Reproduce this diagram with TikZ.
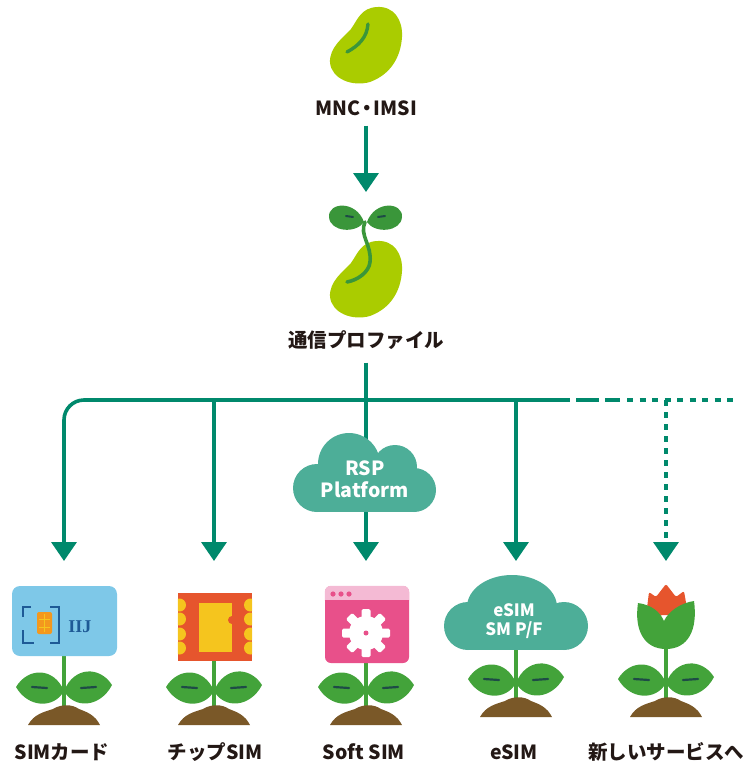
\documentclass[tikz,border=0pt]{standalone}
\usepackage{fontspec}
\setmainfont{Noto Sans CJK JP}
\newfontfamily\logofont{Liberation Serif}
\usetikzlibrary{arrows.meta}

\definecolor{flowgreen}{RGB}{0,137,108}
\definecolor{beangreen}{RGB}{170,204,0}
\definecolor{sproutgreen}{RGB}{58,150,58}
\definecolor{leafgreen}{RGB}{67,163,58}
\definecolor{leafline}{RGB}{30,75,70}
\definecolor{soil}{RGB}{122,88,40}
\definecolor{cloudteal}{RGB}{77,174,152}
\definecolor{simblue}{RGB}{126,200,232}
\definecolor{simdark}{RGB}{30,90,150}
\definecolor{chipamber}{RGB}{243,152,30}
\definecolor{chipred}{RGB}{230,85,45}
\definecolor{chipyellow}{RGB}{245,197,30}
\definecolor{softpink}{RGB}{232,80,138}
\definecolor{barpink}{RGB}{244,186,212}
\definecolor{inkdark}{RGB}{35,24,21}

\tikzset{
  flow/.style={draw=flowgreen,line width=3.6pt,-{Triangle[width=25pt,length=19pt]}},
  link/.style={draw=flowgreen,line width=3.6pt},
  capt/.style={text=inkdark,inner sep=1pt,font=\bfseries\fontsize{19.5pt}{22pt}\selectfont},
  cloudtext/.style={text=white,align=center,inner sep=0pt,font=\bfseries\fontsize{19.5pt}{22pt}\selectfont},
  bean/.pic={
    \fill[beangreen] (11,-38) .. controls (28,-39) and (37,-25) .. (36,-8)
      .. controls (35,8) and (28,28) .. (4,37) .. controls (-14,42) and (-34,34) .. (-36,18)
      .. controls (-37,2) and (-22,-8) .. (-15,-16) .. controls (-8,-26) and (-5,-37) .. (11,-38) -- cycle;
  },
  sprig/.pic={
    \draw[leafgreen,line width=4pt] (0,-62) -- (0,0);
    \fill[leafgreen] (0,-21) .. controls (-10,-45) and (-36,-45) .. (-48,-25) .. controls (-36,-4) and (-10,-3) .. (0,-21);
    \fill[leafgreen] (0,-21) .. controls (10,-46) and (36,-46) .. (48,-27) .. controls (36,-4) and (10,-3) .. (0,-21);
    \draw[leafline,line width=2.2pt,line cap=round] (-32,-25) -- (-17,-24) (17,-24) -- (32,-25);
    \fill[soil] (-36,13) .. controls (-30,2) and (-20,0) .. (-11,-3) .. controls (-3,-8) and (8,-8) .. (15,-3)
      .. controls (23,0) and (31,3) .. (36,13) -- cycle;
  },
  rspcloud/.pic={
    \fill[cloudteal] (-16,-8) circle (31pt);
    \fill[cloudteal] (30,-5) circle (22pt);
    \fill[cloudteal] (-48,16) circle (24pt);
    \fill[cloudteal] (49,18) circle (22pt);
    \fill[cloudteal] (-48,0) rectangle (49,40);
  },
  esimcloud/.pic={
    \fill[cloudteal] (-4,-7) ellipse (45pt and 32pt);
    \fill[cloudteal] (-48,12) circle (24pt);
    \fill[cloudteal] (48,12) circle (24pt);
    \fill[cloudteal] (-48,0) rectangle (48,36);
  }
}

\begin{document}
\begin{tikzpicture}[x=1pt,y=-1pt]
\useasboundingbox (0,0) rectangle (744,764);

% seed, sprout and their captions
\pic at (366,45) {bean};
\draw[sproutgreen,line width=3.4pt,line cap=round] (368,24) .. controls (367,38) and (358,46) .. (347,52);
\node[capt] (mnc) at (366,108) {MNC\kern-3pt・\kern-3pt IMSI};
\coordinate (sprout) at (366,192);
\draw[flow,shorten <=9pt] (mnc) -- (sprout);

\pic at (366,279) {bean};
\fill[sproutgreen] (364,222) .. controls (356,200) and (328,202) .. (329,217) .. controls (330,232) and (356,234) .. (364,222);
\fill[sproutgreen] (367,222) .. controls (375,200) and (403,202) .. (402,217) .. controls (401,232) and (375,234) .. (367,222);
\draw[leafline,line width=2pt,line cap=round] (346,216) -- (353,217) (378,217) -- (385,216);
\draw[sproutgreen,line width=3.6pt,line cap=round] (365,222) .. controls (359,235) and (372,245) .. (370,262)
  .. controls (369,272) and (358,280) .. (347,282);
\node[capt] (profile) at (366,340) {通信プロファイル};

% branches
\coordinate (hub) at (366,400);
\foreach \n/\x in {1/64,2/214,3/366,4/516,5/666}
  \coordinate (in\n) at (\x,561);
\coordinate (solidend) at (570,400);
\coordinate (dashstart) at (576,400);
\coordinate (dashend) at (620,400);
\coordinate (dotstart) at (627,400);
\coordinate (barend) at (733,400);
\coordinate (fork5) at (666,400);

\draw[flow,shorten <=12pt] (profile) -- (in3);
\draw[flow,rounded corners=20pt] (hub) -| (in1);
\draw[flow] (hub) -| (in2);
\draw[flow] (hub) -| (in4);
\draw[link] (hub) -- (solidend);
\draw[link,dash pattern=on 23pt off 6pt on 15pt off 6pt] (dashstart) -- (dashend);
\draw[link,dash pattern=on 6pt off 6.5pt] (dotstart) -- (barend);
\draw[flow,dash pattern=on 6pt off 6pt] (fork5) -- (in5);%dotted branch

\pic at (365,472) {rspcloud};
\node[cloudtext] (rsp) at (365,479) {RSP\\Platform};

% plants
\foreach \x/\h in {64/712,214/712,366/712,516/704,666/704}
  \pic at (\x,\h) {sprig};

% SIM card
\node[fill=simblue,rounded corners=8pt,minimum width=105pt,minimum height=70pt,inner sep=0pt] (simcard) at (64.5,621) {};
\draw[simdark,line width=2.6pt] (31,607) -- (23,607) -- (23,617) (23,630) -- (23,643) -- (34,643)
  (50,607) -- (59,607) -- (59,643) -- (50,643);
\fill[chipamber,rounded corners=2pt] (37,612) rectangle (52,634);
\draw[chipyellow,line width=1pt] (44.5,614) -- (44.5,632) (39,619) -- (50,619) (39,627) -- (50,627);
\node[text=simdark,inner sep=0pt,font=\logofont\bfseries\fontsize{18pt}{18pt}\selectfont] (iij) at (80,627) {IIJ};

% chip SIM
\node[fill=chipred,minimum width=74pt,minimum height=68pt,inner sep=0pt] (chipsim) at (215,627) {};
\begin{scope}
\clip (chipsim.south west) rectangle (chipsim.north east);
\foreach \y in {605,619,634,648}
  \fill[chipyellow] (179.5,\y) circle (6.5pt) (250.5,\y) circle (6.5pt);
\end{scope}
\fill[chipyellow] (199,603) rectangle (232,652);
\fill[chipred] (232,620) circle (4pt);

% soft SIM
\node[fill=softpink,rounded corners=6pt,minimum width=84pt,minimum height=77pt,inner sep=0pt] (softsim) at (367,624.5) {};
\fill[barpink,rounded corners=6pt] (softsim.north west) rectangle ([yshift=-20pt]softsim.north east);
\fill[softpink] ([yshift=-14pt]softsim.north west) rectangle ([yshift=-24pt]softsim.north east);
\foreach \x in {333,341,349}
  \fill[softpink] (\x,594) circle (2.6pt);
\fill[white] (366,633) circle (17pt);
\foreach \a in {0,45,...,315}
  \fill[white,rounded corners=1.5pt,rotate around={\a:(366,633)}] (361.5,609) rectangle (370.5,620);
\fill[softpink] (366,633) circle (2.5pt);

% eSIM
\pic at (516,614) {esimcloud};
\node[cloudtext,font=\bfseries\fontsize{17pt}{19pt}\selectfont] (esim) at (514,621) {eSIM\\SM P/F};

% tulip
\fill[chipred,rounded corners=2pt] (646,616) -- (649,592) -- (656,597) -- (666,584) -- (676,597) -- (684,591) -- (688,614) -- cycle;
\fill[leafgreen] (666,649) .. controls (644,649) and (634,630) .. (638,603) .. controls (652,605) and (660,612) .. (664,621)
  .. controls (668,612) and (680,603) .. (694,601) .. controls (698,630) and (688,649) .. (666,649) -- cycle;

% names
\node[capt] (lbl1) at (62,752) {SIMカード};
\node[capt] (lbl2) at (215,752) {チップSIM};
\node[capt] (lbl3) at (364,752) {Soft SIM};
\node[capt] (lbl4) at (514,752) {eSIM};
\node[capt] (lbl5) at (666,752) {新しいサービスへ};
\end{tikzpicture}
\end{document}
